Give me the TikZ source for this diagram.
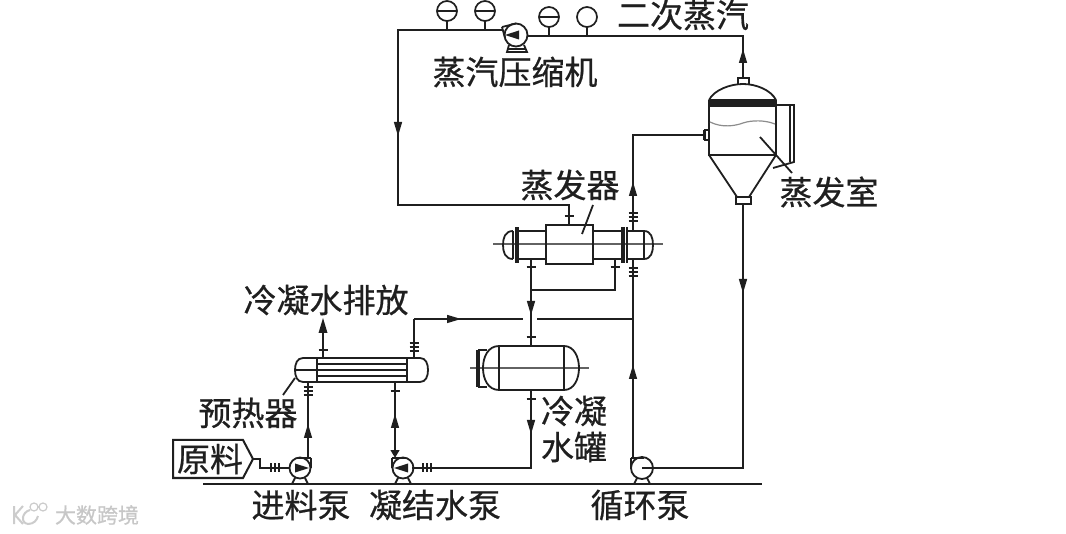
\documentclass[tikz,border=0pt]{standalone}
\usepackage{fontspec}
\setmainfont[FakeBold=0.6]{Noto Sans CJK SC}
\usetikzlibrary{arrows.meta}
\definecolor{ink}{gray}{0.12}
\tikzset{
  pipe/.style={draw=ink,line width=2pt,line join=miter},
  thin equip/.style={draw=ink,line width=1.8pt},
  centerl/.style={draw=ink!70,line width=1.2pt},
  lbl/.style={text=ink,inner sep=0pt,font=\fontsize{33}{36}\selectfont},
  wm/.style={text=black!22,inner sep=0pt,font=\fontsize{21}{24}\selectfont},
  lead/.style={draw=ink,line width=1.8pt},
  gauge/.style={draw=ink,line width=1.7pt,fill=white},
}
\newcommand{\arrU}[2]{\fill[ink] (#1,#2-8) -- (#1+4.2,#2+6) -- (#1-4.2,#2+6) -- cycle;}
\newcommand{\arrD}[2]{\fill[ink] (#1,#2+8) -- (#1+4.2,#2-6) -- (#1-4.2,#2-6) -- cycle;}
\newcommand{\arrR}[2]{\fill[ink] (#1+8,#2) -- (#1-6,#2+4.2) -- (#1-6,#2-4.2) -- cycle;}
\newcommand{\tickH}[2]{\draw[ink,line width=1.5pt] (#1-4.5,#2) -- (#1+4.5,#2);}
\newcommand{\tickV}[2]{\draw[ink,line width=1.5pt] (#1,#2-4.5) -- (#1,#2+4.5);}
\newcommand{\triH}[2]{\tickH{#1}{#2-4}\tickH{#1}{#2}\tickH{#1}{#2+4}}
\newcommand{\triV}[2]{\tickV{#1-4}{#2}\tickV{#1}{#2}\tickV{#1+4}{#2}}
\newcommand{\pumpbase}[1]{\draw[thin equip] (#1-5,478) -- (#1-8,484) (#1+5,478) -- (#1+8,484);}
\begin{document}
\begin{tikzpicture}[x=1pt,y=-1pt]
\useasboundingbox (0,0) rectangle (1066,534);
\fill[white] (0,0) rectangle (1066,534);

% named connection points
\coordinate (compL) at (502,30);
\coordinate (compR) at (527,36);
\coordinate (topL) at (398,30);
\coordinate (botL) at (398,205);
\coordinate (shellTopIn) at (569,205);
\coordinate (shellTop) at (569,225);
\coordinate (topR) at (743,36);
\coordinate (vapNozzle) at (743,78);
\coordinate (vapIn) at (703,135);
\coordinate (riserTop) at (633,135);
\coordinate (evTubeTop) at (633,231);
\coordinate (evTubeBot) at (633,259);
\coordinate (pump3Out) at (633,458);
\coordinate (pump3In) at (642,468);
\coordinate (vapBot) at (743,204);
\coordinate (vapBotC) at (743,468);
\coordinate (shellBot1) at (531,259);
\coordinate (shellBot2) at (615,259);
\coordinate (tee1) at (531,290);
\coordinate (tee2) at (615,290);
\coordinate (tankTop) at (531,346);
\coordinate (tankBot) at (531,390);
\coordinate (tankC) at (531,468);
\coordinate (pump2In) at (412,468);
\coordinate (pump2Out) at (395,456);
\coordinate (phBot2) at (395,382);
\coordinate (phTop2) at (414,358);
\coordinate (retC) at (414,319);
\coordinate (retGapL) at (523,319);
\coordinate (retGapR) at (537,319);
\coordinate (retJoin) at (633,319);
\coordinate (phTop1) at (323,358);
\coordinate (drain) at (323,322);
\coordinate (phBot1) at (308,382);
\coordinate (pump1Out) at (308,458);
\coordinate (feedA) at (260,459);
\coordinate (feedB) at (260,468);
\coordinate (pump1In) at (290,468);
\coordinate (feedBox) at (253,459);

% gauges
\foreach \gx/\gy/\gs in {447/11/30,485/11/30,549/17/36,587/17/36}{
  \draw[thin equip] (\gx,\gy) -- (\gx,\gs);
  \draw[gauge] (\gx,\gy) circle (10);
}
\foreach \gx/\gy in {447/11,485/11,549/17}{\draw[ink,line width=1.2pt] (\gx-9,\gy) -- (\gx+9,\gy);}

% vapour lines
\draw[pipe] (compL) -- (topL) -- (botL) -- (shellTopIn) -- (shellTop);
\draw[pipe] (compR) -- (topR) -- (vapNozzle);
\arrD{398}{128}
\arrU{743}{57}
\tickH{569}{216}

% compressor
\draw[thin equip] (516,35) circle (11.5);
\draw[thin equip] (502,27) -- (516,23.5) (502,27) -- (505,38);
\draw[thin equip] (509,45) -- (507,52) -- (527,52) -- (524,45);
\draw[thin equip] (508,49) -- (526,49);
\fill[ink] (505,35) -- (519,30.5) -- (519,39.5) -- cycle;

% vapouriser vessel
\draw[thin equip] (738,84) -- (738,78) -- (749,78) -- (749,84);
\draw[thin equip] (709,100) .. controls (714,90) and (730,84) .. (743,84) .. controls (756,84) and (771,90) .. (776,100);
\fill[ink] (709,99) rectangle (776,107);
\draw[thin equip] (709,100) -- (709,155) -- (776,155) -- (776,100);
\draw[thin equip] (709,155) -- (737,197) -- (749,197) -- (776,155);
\draw[thin equip] (736,197) rectangle (751,204);
\draw[draw=black!45,line width=1.2pt] (710,122) .. controls (722,128) and (735,126) .. (743,123) .. controls (752,120) and (765,120) .. (775,124);
\draw[thin equip] (776,105) -- (794,105) -- (794,162) -- (773,168);
\draw[thin equip] (790,105) -- (790,162);
\fill[ink] (703,130) rectangle (705,140);
\draw[thin equip] (705,130) rectangle (709,140);

% riser
\draw[pipe] (vapIn) -- (riserTop) -- (evTubeTop);
\arrU{633}{190}
\triH{633}{217}
\draw[pipe] (evTubeBot) -- (pump3Out);
\triH{633}{272}
\arrU{633}{373}

% circulation return
\draw[pipe] (vapBot) -- (vapBotC) -- (pump3In);
\arrD{743}{285}

% evaporator
\draw[centerl] (493,244) -- (663,244);
\draw[thin equip] (513,231) .. controls (505,231) and (503,238) .. (503,245) .. controls (503,252) and (505,259) .. (513,259);
\draw[thin equip] (513,231) -- (513,259);
\fill[ink] (515,227) rectangle (519,263);
\draw[thin equip] (517,231) -- (546,231) (517,259) -- (546,259);
\draw[thin equip] (546,225) rectangle (593,264);
\draw[thin equip] (593,231) -- (622,231) (593,259) -- (622,259);
\fill[ink] (621,227) rectangle (625,263);
\draw[thin equip] (627,227) -- (627,263);
\draw[thin equip] (627,231) -- (644,231) (627,259) -- (644,259);
\draw[thin equip] (644,231) -- (644,259);
\draw[thin equip] (644,231) .. controls (651,231) and (653,238) .. (653,245) .. controls (653,252) and (651,259) .. (644,259);

% condensate from evaporator
\draw[pipe] (shellBot1) -- (tankTop);
\draw[pipe] (tee1) -- (tee2) -- (shellBot2);
\tickH{531}{267}
\tickH{615}{267}
\tickH{531}{337}
\arrD{531}{307}
\draw[pipe] (retC) -- (retGapL);
\draw[pipe] (retGapR) -- (retJoin);
\draw[pipe] (phTop2) -- (retC);
\arrR{453}{319}
\triH{414}{347}

% tank
\draw[centerl] (470,368) -- (589,368);
\draw[thin equip] (499,346) -- (564,346) (499,390) -- (564,390);
\draw[thin equip] (499,346) .. controls (488,346) and (483,357) .. (483,368) .. controls (483,379) and (488,390) .. (499,390);
\draw[thin equip] (564,346) .. controls (574,346) and (579,357) .. (579,368) .. controls (579,379) and (574,390) .. (564,390);
\draw[thin equip] (499,346) -- (499,390) (564,346) -- (564,390);
\draw[thin equip] (487,350) -- (478,350) (487,387) -- (478,387);
\fill[ink] (476,350) rectangle (480,387);

\draw[pipe] (tankBot) -- (tankC) -- (pump2In);
\tickH{531}{399}
\arrD{531}{426}
\triV{427}{468}

% preheater
\draw[thin equip] (303,358) -- (420,358) .. controls (426,358) and (428,364) .. (428,370) .. controls (428,376) and (426,382) .. (420,382) -- (303,382) .. controls (297,382) and (295,376) .. (295,370) .. controls (295,364) and (297,358) .. (303,358);
\draw[thin equip] (317,358) -- (317,382) (407,358) -- (407,382);
\draw[thin equip] (296,370) -- (317,370);
\foreach \ty in {364,370,376}{\draw[ink,line width=1.4pt] (317,\ty) -- (407,\ty);}

\draw[pipe] (phTop1) -- (drain);
\fill[ink] (323,318) -- (327.5,333) -- (318.5,333) -- cycle;
\tickH{323}{350}
\draw[pipe] (phBot1) -- (pump1Out);
\triH{308}{391}
\arrU{308}{432}
\draw[pipe] (phBot2) -- (pump2Out);
\tickH{395}{391}
\arrU{395}{422}
\draw[thin equip] (392,451) -- (395,456) -- (398,451) -- cycle;

% raw material
\node[lbl,anchor=center] (rawlabel) at (210,459) {原料};
\draw[line width=2pt,draw=ink] (173,440) -- (243,440) -- (253,459) -- (243,478) -- (173,478) -- cycle;
\draw[pipe] (feedBox) -- (feedA) -- (feedB) -- (pump1In);
\triV{275}{468}

% pumps
\draw[thin equip] (300,468) circle (10.5);
\draw[thin equip] (311,458) -- (311,468) (298,458) -- (311,458);
\fill[ink] (309,468) -- (295,463.5) -- (295,472.5) -- cycle;
\pumpbase{300}
\draw[thin equip] (403,468) circle (10.5);
\draw[thin equip] (392,458) -- (392,468) (392,458) -- (405,458);
\fill[ink] (394,468) -- (408,463.5) -- (408,472.5) -- cycle;
\pumpbase{403}
\draw[thin equip] (642,468) circle (11);
\draw[thin equip] (631,458) -- (631,468) (631,458) -- (644,458);
\pumpbase{642}

% ground
\draw[pipe] (203,484) -- (762,484);

% leaders
\coordinate (l1a) at (593,205); \coordinate (l1b) at (582,234);
\draw[lead] (l1a) -- (l1b);
\coordinate (l2a) at (760,137); \coordinate (l2b) at (792,173);
\draw[lead] (l2a) -- (l2b);
\coordinate (l3a) at (295,378); \coordinate (l3b) at (283,395);
\draw[lead] (l3a) -- (l3b);

% labels
\node[lbl] (t1) at (683,15) {二次蒸汽};
\node[lbl] (t2) at (515,72) {蒸汽压缩机};
\node[lbl] (t3) at (570,185) {蒸发器};
\node[lbl] (t4) at (829,192) {蒸发室};
\node[lbl] (t5) at (326,300) {冷凝水排放};
\node[lbl] (t6) at (248,413) {预热器};
\node[lbl] (t7) at (574,411) {冷凝};
\node[lbl] (t8) at (574,447) {水罐};
\node[lbl] (t9) at (301,505) {进料泵};
\node[lbl] (t10) at (435,505) {凝结水泵};
\node[lbl] (t11) at (640,505) {循环泵};

% watermark
\node[wm] (wmtext) at (97,515) {大数跨境};
\draw[draw=black!20,line width=2pt] (14,506) -- (14,524) (23,506) -- (15,515) -- (23,524);
\draw[draw=black!20,line width=2pt] (30,510) .. controls (22,512) and (20,523) .. (28,524) .. controls (34,524) and (37,520) .. (38,516);
\draw[draw=black!20,line width=1.2pt] (34,507) circle (4) (43,507) circle (4);
\end{tikzpicture}
\end{document}
